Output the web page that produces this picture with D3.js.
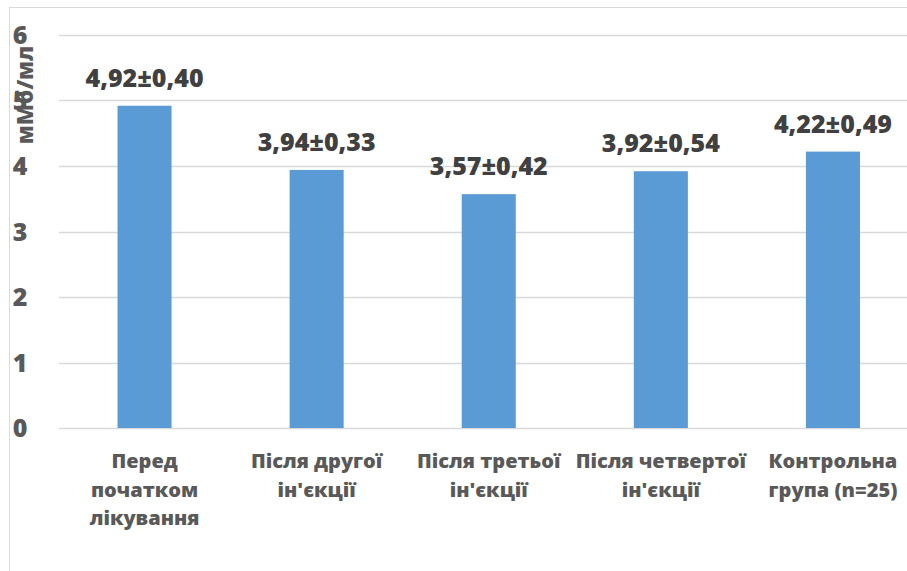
<!DOCTYPE html>
<html>
<head>
<meta charset="utf-8">
<script src="https://cdn.jsdelivr.net/npm/d3@7"></script>
<style>
  html, body { margin: 0; padding: 0; background: #fff; }
  svg { display: block; font-family: "Open Sans", sans-serif; font-weight: 800; }
</style>
</head>
<body>
<svg id="chart" width="907" height="571"></svg>
<script>
// Chart data
const categories = [
  ["Перед", "початком", "лікування"],
  ["Після другої", "ін'єкції"],
  ["Після третьої", "ін'єкції"],
  ["Після четвертої", "ін'єкції"],
  ["Контрольна", "група (n=25)"]
];
const means = [4.92, 3.94, 3.57, 3.92, 4.22];
const errors = ["0,40", "0,33", "0,42", "0,54", "0,49"];
const yTicks = [0, 1, 2, 3, 4, 5, 6];
const yTitle = "мМб/мл";

const svg = d3.select("#chart");

// Outer chart frame
svg.append("rect")
  .attr("x", 9.5).attr("y", 7.5)
  .attr("width", 1000).attr("height", 1000)
  .attr("fill", "none").attr("stroke", "#d9d9d9").attr("stroke-width", 1);

const x = d3.scaleBand()
  .domain(d3.range(categories.length))
  .range([58.5, 919])
  .paddingInner(0.686)
  .paddingOuter(0.343);

const y = d3.scaleLinear().domain([0, 6]).range([428, 35]);

// Gridlines
svg.append("g").selectAll("line")
  .data(yTicks)
  .join("line")
  .attr("x1", 59).attr("x2", 907)
  .attr("y1", d => Math.round(y(d)) + 0.5)
  .attr("y2", d => Math.round(y(d)) + 0.5)
  .attr("stroke", "#d9d9d9").attr("stroke-width", 1.5);

// Y tick labels
svg.append("g").selectAll("text")
  .data(yTicks)
  .join("text")
  .attr("x", 20)
  .attr("y", d => y(d) + 9)
  .attr("text-anchor", "middle")
  .attr("font-size", 25)
  .attr("fill", "#595959")
  .text(d => d);

// Y axis title
svg.append("text")
  .attr("transform", "translate(33,95) rotate(-90)")
  .attr("text-anchor", "middle")
  .attr("font-size", 22)
  .attr("fill", "#595959")
  .text(yTitle);

// Bars
svg.append("g").selectAll("rect")
  .data(means)
  .join("rect")
  .attr("x", (d, i) => x(i))
  .attr("width", x.bandwidth())
  .attr("y", d => y(d))
  .attr("height", d => y(0) - y(d))
  .attr("fill", "#5b9bd5");

// Value labels
svg.append("g").selectAll("text")
  .data(means)
  .join("text")
  .attr("x", (d, i) => x(i) + x.bandwidth() / 2)
  .attr("y", d => y(d) - 19)
  .attr("text-anchor", "middle")
  .attr("font-size", 25)
  .attr("fill", "#404040")
  .text((d, i) => d.toFixed(2).replace(".", ",") + "±" + errors[i]);

// Category labels
const cat = svg.append("g").selectAll("text")
  .data(categories)
  .join("text")
  .attr("x", (d, i) => x(i) + x.bandwidth() / 2)
  .attr("y", 468)
  .attr("text-anchor", "middle")
  .attr("font-size", 20)
  .attr("fill", "#595959");
cat.selectAll("tspan")
  .data((d, i) => d.map(line => ({ line, cx: x(i) + x.bandwidth() / 2 })))
  .join("tspan")
  .attr("x", d => d.cx)
  .attr("dy", (d, j) => j === 0 ? 0 : 28.5)
  .text(d => d.line);
</script>
</body>
</html>
